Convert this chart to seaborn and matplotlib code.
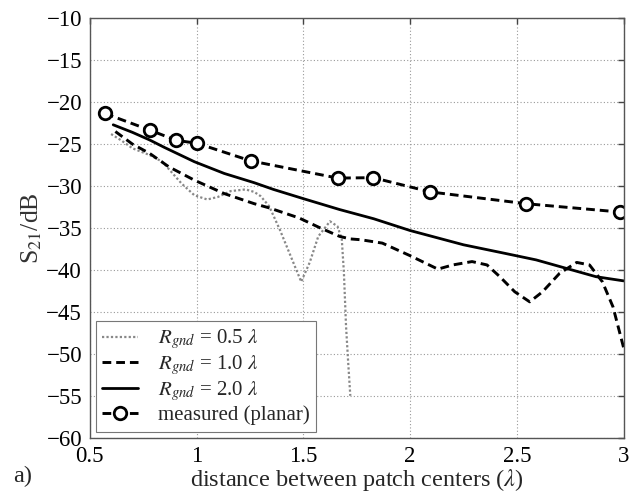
import matplotlib
matplotlib.use("Agg")
import matplotlib.pyplot as plt
import seaborn as sns
import pandas as pd

# ---- data ----
r05_x = [0.60, 0.65, 0.70, 0.78, 0.84, 0.93, 0.99, 1.05, 1.10, 1.16, 1.23, 1.27,
         1.30, 1.34, 1.39, 1.44, 1.49, 1.53, 1.57, 1.625, 1.66, 1.68, 1.69, 1.70,
         1.71, 1.72]
r05_y = [-23.8, -24.6, -25.5, -26.3, -27.1, -29.7, -31.1, -31.6, -31.3, -30.6,
         -30.4, -30.7, -31.2, -32.4, -35.2, -38.3, -41.4, -39.1, -36.0, -34.2,
         -34.8, -36.3, -40.3, -46.7, -51.0, -55.0]

r10_x = [0.62, 0.70, 0.78, 0.87, 0.99, 1.13, 1.27, 1.34, 1.48, 1.58, 1.67, 1.72,
         1.77, 1.87, 2.00, 2.13, 2.20, 2.29, 2.36, 2.42, 2.49, 2.56, 2.62, 2.70,
         2.78, 2.84, 2.90, 2.95, 3.00]
r10_y = [-23.5, -25.0, -26.1, -27.7, -29.3, -30.9, -32.1, -32.6, -33.8, -35.0,
         -36.0, -36.3, -36.4, -36.8, -38.3, -39.9, -39.4, -39.0, -39.4, -40.8,
         -42.6, -43.8, -42.6, -40.4, -39.1, -39.4, -41.4, -44.4, -49.3]

r20_x = [0.61, 0.70, 0.78, 0.85, 0.99, 1.13, 1.27, 1.36, 1.50, 1.67, 1.83, 2.00,
         2.25, 2.44, 2.59, 2.73, 2.87, 3.00]
r20_y = [-22.7, -23.6, -24.5, -25.4, -27.1, -28.5, -29.6, -30.4, -31.5, -32.8,
         -33.9, -35.3, -37.0, -38.0, -38.8, -39.8, -40.8, -41.3]

meas_x = [0.571, 0.783, 0.905, 1.002, 1.254, 1.661, 1.827, 2.095, 2.542, 2.985]
meas_y = [-21.35, -23.35, -24.55, -24.9, -27.0, -29.05, -29.0, -30.7, -32.1, -33.1]

labels = [r'$R_{gnd}$ = 0.5 $\lambda$', r'$R_{gnd}$ = 1.0 $\lambda$',
          r'$R_{gnd}$ = 2.0 $\lambda$', 'measured (planar)']
x_ticks = [0.5, 1, 1.5, 2, 2.5, 3]
x_tick_labels = ['0.5', '1', '1.5', '2', '2.5', '3']
y_ticks = [-60, -55, -50, -45, -40, -35, -30, -25, -20, -15, -10]

sns.set_style("white")
plt.rcParams['font.family'] = ['Liberation Serif', 'DejaVu Serif']
plt.rcParams['mathtext.fontset'] = 'stix'

fig = plt.figure(figsize=(6.41, 4.93), dpi=100)
ax = fig.add_axes([0.140, 0.112, 0.833, 0.851])

sns.lineplot(x=r05_x, y=r05_y, ax=ax, color='#888888', lw=1.6,
             linestyle=(0, (1, 1)), label=labels[0], sort=False, estimator=None)
sns.lineplot(x=r10_x, y=r10_y, ax=ax, color='black', lw=2.1,
             linestyle=(0, (3, 1.7)), label=labels[1], sort=False, estimator=None)
sns.lineplot(x=r20_x, y=r20_y, ax=ax, color='black', lw=2.0,
             linestyle='-', label=labels[2], sort=False, estimator=None)
sns.lineplot(x=meas_x, y=meas_y, ax=ax, color='black', lw=2.1,
             linestyle=(0, (3, 1.7)), marker='o', markersize=9,
             markerfacecolor='white', markeredgecolor='black', markeredgewidth=2.0,
             label=labels[3], sort=False, estimator=None)

ax.set_xlim(0.5, 3)
ax.set_ylim(-60, -10)
ax.set_xticks(x_ticks)
ax.set_xticklabels(x_tick_labels)
ax.set_yticks(y_ticks)
ax.grid(True, color='#999999', linestyle=(0, (1, 2)), linewidth=0.8)
ax.tick_params(direction='in', length=4.5, width=1.0, labelsize=16.5, top=True,
               right=True, colors='#444444', labelcolor='black')
ax.tick_params(axis='y', pad=5.5)
ax.tick_params(axis='x', pad=6)
for s in ax.spines.values():
    s.set_color('#555555')
    s.set_linewidth(1.0)

ax.set_xlabel('distance between patch centers ($\\lambda$)', fontsize=17.5, labelpad=0)
ax.set_ylabel(r'S$_{21}$/dB', fontsize=18.5, color='#333333', labelpad=2)

leg = ax.legend(loc='lower left', fontsize=15, frameon=True, fancybox=False,
                edgecolor='#777777', framealpha=1, handlelength=1.7,
                handletextpad=1.0, borderaxespad=0.3, borderpad=0.3,
                labelspacing=0.1)
leg.get_frame().set_linewidth(0.8)

fig.text(0.02, 0.012, 'a)', fontsize=17.5, va='bottom', ha='left')

fig.savefig('out.png', dpi=100)
